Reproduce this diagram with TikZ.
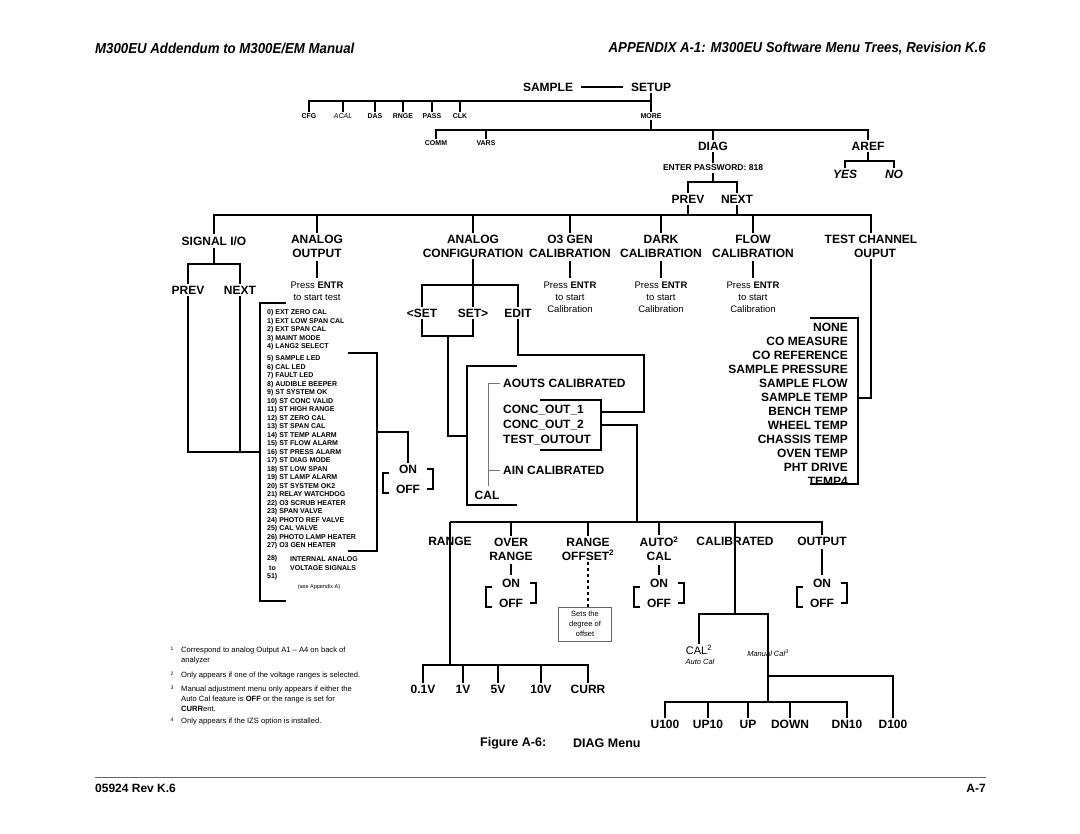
\documentclass[tikz,border=0pt]{standalone}
\usepackage{fontspec}
\setmainfont{Liberation Sans}
\newfontfamily\hdfont[FakeStretch=0.92]{Liberation Sans}
\usetikzlibrary{calc}

\begin{document}
\begin{tikzpicture}[x=1pt,y=-1pt,
  ln/.style={line width=1.6pt},
  dn/.style={line width=1.6pt, shorten <=1.5pt, shorten >=1.5pt},
  thinln/.style={line width=0.8pt, black!55},
  lab/.style={font=\fontsize{12}{14}\selectfont\bfseries, inner sep=2pt, align=center},
  sm/.style={font=\fontsize{7}{8}\selectfont\bfseries, inner sep=1.5pt},
  press/.style={font=\fontsize{9.5}{12}\selectfont, inner sep=2pt, align=center},
  item/.style={font=\fontsize{7}{8}\selectfont\bfseries, inner sep=0pt, anchor=west},
  onoff/.style={font=\fontsize{12}{20}\selectfont\bfseries, inner sep=2pt, align=center},
  fn/.style={font=\fontsize{7.6}{10}\selectfont, inner sep=0pt, anchor=north west, align=left},
  fnum/.style={font=\fontsize{5}{6}\selectfont, inner sep=0pt},
  hd/.style={font=\fontsize{14.4}{16}\hdfont\bfseries\itshape, inner sep=0pt}]
\useasboundingbox (0,0) rectangle (1080,834);

% page head
\node[hd, anchor=west] (headl) at (95,48) {M300EU Addendum to M300E/EM Manual};
\node[hd, anchor=east] (headr) at (986,48) {APPENDIX A-1: M300EU Software Menu Trees, Revision K.6};

% sample / setup
\node[lab] (sample) at (548,87) {SAMPLE};
\node[lab] (setup) at (651,87) {SETUP};
\draw[ln, shorten <=6pt, shorten >=6pt] (sample) -- (setup);

\coordinate (b1) at (0,101);
\foreach \n/\x/\t in {cfg/309/CFG, das/375/DAS, rnge/403/RNGE, pass/432/PASS, clk/460/CLK, more/651/MORE}
  \node[sm] (\n) at (\x,116) {\t};
\node[sm, font=\fontsize{7}{8}\selectfont\itshape] (acal) at (343,116) {ACAL};
\draw[ln] (setup.south) -- (more.north);
\draw[ln] (cfg.north) |- (more.north |- b1);
\foreach \n in {acal,das,rnge,pass,clk} \draw[ln] (\n.north) -- (\n.north |- b1);

% more
\coordinate (b2) at (0,130);
\node[sm] (comm) at (436,143) {COMM};
\node[sm] (vars) at (486,143) {VARS};
\node[lab] (diag) at (713,146) {DIAG};
\node[lab] (aref) at (868,146) {AREF};
\draw[ln] (more.south) -- (more.south |- b2);
\draw[ln] (comm.north) |- (aref.north |- b2) -- (aref.north);
\foreach \n in {vars,diag} \draw[ln] (\n.north) -- (\n.north |- b2);

% diag
\node[font=\fontsize{8.5}{10}\selectfont\bfseries, inner sep=2pt] (pwd) at (713,168) {ENTER PASSWORD: 818};
\draw[ln] (diag.south) -- (pwd.north);
\coordinate (b3) at (0,182);
\node[lab] (dprev) at (688,199) {PREV};
\node[lab] (dnext) at (737,199) {NEXT};
\draw[ln] (pwd.south) -- (pwd.south |- b3);
\draw[ln] (dprev.north) |- (dnext.north |- b3) -- (dnext.north);

% aref
\coordinate (b4) at (0,161);
\node[lab, font=\fontsize{12}{14}\selectfont\bfseries\itshape] (yes) at (845,174) {YES};
\node[lab, font=\fontsize{12}{14}\selectfont\bfseries\itshape] (no) at (894,174) {NO};
\draw[ln] (aref.south) -- (aref.south |- b4);
\draw[ln] (yes.north) |- (no.north |- b4) -- (no.north);

% diag menu row
\coordinate (b5) at (0,215);
\node[lab] (sigio) at (214,241) {SIGNAL I/O};
\node[lab] (aout) at (317,246) {ANALOG\\OUTPUT};
\node[lab] (aconf) at (473,246) {ANALOG\\CONFIGURATION};
\node[lab] (otgen) at (570,246) {O3 GEN\\CALIBRATION};
\node[lab] (dark) at (661,246) {DARK\\CALIBRATION};
\node[lab] (flow) at (753,246) {FLOW\\CALIBRATION};
\node[lab] (tch) at (871,246) {TEST CHANNEL\\\hspace*{8pt}OUPUT};
\draw[ln] (dprev.south) -- (dprev.south |- b5);
\draw[ln] (dnext.south) -- (dnext.south |- b5);
\draw[ln] (sigio.north) |- (tch.north |- b5) -- (tch.north);
\foreach \n in {aout,aconf,otgen,dark,flow} \draw[ln] (\n.north) -- (\n.north |- b5);

\node[press] (aoutp) at (317,291) {Press \textbf{ENTR}\\to start test};
\draw[dn] (aout.south) -- (aoutp.north);
\foreach \n/\x in {otgen/570, dark/661, flow/753} {
  \node[press] (\n p) at (\x,297) {Press \textbf{ENTR}\\to start\\Calibration};
  \draw[dn] (\n.south) -- (\n p.north);
}

% signal i/o
\coordinate (b6) at (0,264);
\node[lab] (sprev) at (188,290) {PREV};
\node[lab] (snext) at (240,290) {NEXT};
\draw[ln] (sigio.south) -- (sigio.south |- b6);
\draw[ln] (sprev.north) |- (snext.north |- b6) -- (snext.north);
\coordinate (sjoin) at (260,452);
\draw[ln] (sprev.south) |- (sjoin);
\draw[ln] (snext.south) -- (snext.south |- sjoin);
\draw[ln] (286,303) -| (sjoin) |- (286,601);

\foreach \t [count=\i from 0] in {EXT ZERO CAL, EXT LOW SPAN CAL, EXT SPAN CAL, MAINT MODE, LANG2 SELECT}
  \node[item] (it\i) at (267,{313+8.5*\i}) {\i) \t};
\foreach \t [count=\i from 5] in {SAMPLE LED, CAL LED, FAULT LED, AUDIBLE BEEPER, ST SYSTEM OK,
  ST CONC VALID, ST HIGH RANGE, ST ZERO CAL, ST SPAN CAL, ST TEMP ALARM, ST FLOW ALARM,
  ST PRESS ALARM, ST DIAG MODE, ST LOW SPAN, ST LAMP ALARM, ST SYSTEM OK2, RELAY WATCHDOG,
  O3 SCRUB HEATER, SPAN VALVE, PHOTO REF VALVE, CAL VALVE, PHOTO LAMP HEATER, O3 GEN HEATER}
  \node[item] (it\i) at (267,{359+8.5*(\i-5)}) {\i) \t};
\node[item] (it28) at (267,559) {28)};
\node[item] (itto) at (269,568) {to};
\node[item] (it51) at (267,577) {51)};
\node[item] (itint) at (290,559) {INTERNAL ANALOG};
\node[item] (itvolt) at (290,568) {VOLTAGE SIGNALS};
\node[font=\fontsize{5.5}{6}\selectfont, inner sep=0pt] (seeapp) at (319,587) {(see Appendix A)};

\draw[ln] (348,353) -| (377,551) -- (348,551);

% on / off selectors
\foreach \n/\x/\y in {oo0/408/479, oo1/511/593, oo2/659/593, oo3/822/593} {
  \node[onoff] (\n) at (\x,\y) {ON\\OFF};
  \draw[ln] (\x-19,\y-6) -- (\x-25,\y-6) -- (\x-25,\y+14) -- (\x-19,\y+14);
  \draw[ln] (\x+19,\y-10) -- (\x+25,\y-10) -- (\x+25,\y+10) -- (\x+19,\y+10);
}
\draw[ln] (377,432) -| (oo0.north);

% analog configuration
\coordinate (b7) at (0,285);
\node[lab] (setl) at (422,313) {<SET};
\node[lab] (setr) at (473,313) {SET>};
\node[lab] (edit) at (518,313) {EDIT};
\draw[ln] (aconf.south) -- (aconf.south |- b7);
\draw[ln] (setl.north) |- (edit.north |- b7) -- (edit.north);
\draw[ln] (setr.north) -- (setr.north |- b7);
\coordinate (b8) at (0,336);
\draw[ln] (setl.south) |- (setr.south |- b8) -- (setr.south);
\draw[ln] (448,336) |- (467,436);
\draw[ln] (517,366) -| (467,505) -- (517,505);
\draw[thinln] (500,383) -| (488,486);
\draw[thinln] (488,470) -- (500,470);
\node[lab, anchor=west] (aouts) at (501,383) {AOUTS CALIBRATED};
\node[lab, anchor=west] (conca) at (501,410) {CONC\_OUT\_1};
\node[lab, anchor=west] (concb) at (501,425) {CONC\_OUT\_2};
\node[lab, anchor=west] (testo) at (501,440) {TEST\_OUTOUT};
\node[lab, anchor=west] (ain) at (501,470) {AIN CALIBRATED};
\node[lab] (cal) at (487,495) {CAL};
\draw[ln] (540,400) -| (601,450) -- (540,450);
\draw[ln] (601,412) -| (644,355) -| (edit.south);
\draw[ln] (601,425) -| (637,522);

% test channel
\foreach \t [count=\i from 0] in {NONE, CO MEASURE, CO REFERENCE, SAMPLE PRESSURE, SAMPLE FLOW,
  SAMPLE TEMP, BENCH TEMP, WHEEL TEMP, CHASSIS TEMP, OVEN TEMP, PHT DRIVE, TEMP4}
  \node[lab, anchor=east] (tc\i) at (850,{327+14*\i}) {\t};
\draw[ln] (tch.south) |- (858,398);
\draw[ln] (810,318) -| (858,484) -- (810,484);

% calibration of an output
\coordinate (b9) at (0,522);
\node[lab] (rng) at (450,541) {RANGE};
\node[lab] (ovr) at (511,549) {OVER\\RANGE};
\node[lab] (roff) at (588,549) {RANGE\\OFFSET\textsuperscript{2}};
\node[lab] (autoc) at (659,549) {AUTO\textsuperscript{2}\\CAL};
\node[lab] (calb) at (735,541) {CALIBRATED};
\node[lab] (outp) at (822,541) {OUTPUT};
\draw[ln] (rng.center |- b9) -| (outp.north);
\foreach \n in {ovr,roff,autoc} \draw[ln] (\n.north) -- (\n.north |- b9);
\draw[dn] (ovr.south) -- (oo1.north);
\draw[dn] (autoc.south) -- (oo2.north);
\draw[dn] (outp.south) -- (oo3.north);
\node[draw=black!60, line width=0.8pt, font=\fontsize{7.5}{10}\selectfont, align=center,
  minimum width=53pt, minimum height=34pt, inner sep=1pt] (offbox) at (585,624) {Sets the\\degree of\\offset};
\draw[line width=1.2pt, dashed] (roff.south) -- (roff.south |- offbox.north);

\coordinate (b10) at (0,665);
\draw[ln] (rng.center |- b9) -- (rng.center |- b10);
\foreach \n/\x/\t in {vlo/423/0.1V, vone/463/1V, vfive/498/5V, vten/541/10V, curr/588/CURR}
  \node[lab] (\n) at (\x,689) {\t};
\draw[ln] (vlo.north) |- (curr.north |- b10) -- (curr.north);
\foreach \n in {vone,vfive,vten} \draw[ln] (\n.north) -- (\n.north |- b10);

\coordinate (b11) at (0,614);
\coordinate (b12) at (0,676);
\coordinate (b13) at (0,702);
\draw[ln] (calb.center |- b9) -- (calb.center |- b11);
\node[font=\fontsize{11}{12}\selectfont, inner sep=1.5pt] (caltwo) at (699,650) {CAL\textsuperscript{2}};
\node[font=\fontsize{7.5}{9}\selectfont\itshape, inner sep=0pt] (autocal) at (700,662) {Auto Cal};
\node[font=\fontsize{7.5}{9}\selectfont\itshape, inner sep=0pt] (mancal) at (768,653) {Manual Cal\textsuperscript{3}};
\coordinate (mline) at (768,614);
\draw[ln] (caltwo.north) |- (mline) -- (mline |- b13);
\foreach \n/\x/\t in {uh/665/U100, ut/708/UP10, up/748/UP, down/790/DOWN, dt/847/DN10, dh/893/D100}
  \node[lab] (\n) at (\x,724) {\t};
\draw[ln] (mline |- b12) -| (dh.north);
\draw[ln] (uh.north) |- (dt.north |- b13) -- (dt.north);
\foreach \n in {ut,up,down} \draw[ln] (\n.north) -- (\n.north |- b13);

% notes
\node[fnum] (fa) at (172,649) {1};
\node[fn] (fna) at (181,647) {Correspond to analog Output A1 -- A4 on back of\\analyzer};
\node[fnum] (fb) at (172,674) {2};
\node[fn] (fnb) at (181,672) {Only appears if one of the voltage ranges is selected.};
\node[fnum] (fc) at (172,688) {3};
\node[fn] (fnc) at (181,686) {Manual adjustment menu only appears if either the\\Auto Cal feature is \textbf{OFF} or the range is set for\\\textbf{CURR}ent.};
\node[fnum] (fd) at (172,720) {4};
\node[fn] (fnd) at (181,718) {Only appears if the IZS option is installed.};

% caption and page foot
\node[font=\fontsize{12.5}{14}\selectfont\bfseries, anchor=west, inner sep=0pt] (figno) at (480,743) {Figure A-6:};
\node[font=\fontsize{12.5}{14}\selectfont\bfseries, anchor=west, inner sep=0pt] (figname) at (573,743) {DIAG Menu};
\draw[line width=0.8pt, black!60] (95,777) -- (986,777);
\node[font=\fontsize{12}{14}\selectfont\bfseries, anchor=west, inner sep=0pt] (footl) at (95,788) {05924 Rev K.6};
\node[font=\fontsize{12}{14}\selectfont\bfseries, anchor=east, inner sep=0pt] (footr) at (986,788) {A-7};
\end{tikzpicture}
\end{document}
